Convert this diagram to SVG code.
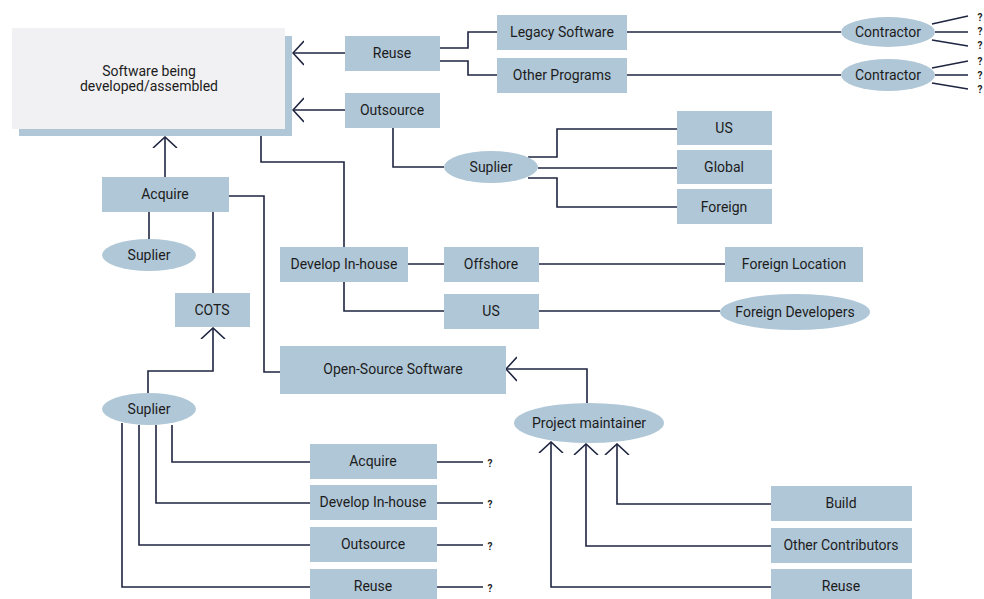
<svg xmlns="http://www.w3.org/2000/svg" width="984" height="599" viewBox="0 0 984 599">
<defs>
<style>
.b{fill:#b0c7d7}
.t{font-family:Roboto,"Liberation Sans",sans-serif;font-size:14px;fill:#1c1c1c;text-anchor:middle;dominant-baseline:central}
.q{font-family:Roboto,"Liberation Sans",sans-serif;font-size:10px;font-weight:bold;fill:#222;text-anchor:middle;dominant-baseline:central}
.c{fill:none;stroke:#1f2540;stroke-width:1.6}
</style>
<marker id="ah" viewBox="0 0 12 26" refX="11" refY="13" markerWidth="12" markerHeight="26" markerUnits="userSpaceOnUse" orient="auto">
<path d="M0,1 L11,13 L0,25" fill="none" stroke="#1f2540" stroke-width="1.6"/>
</marker>
</defs>
<rect width="984" height="599" fill="#fff"/>
<g id="connectors">
<path class="c" d="M345,53 H293" marker-end="url(#ah)"/>
<path class="c" d="M345,110 H293" marker-end="url(#ah)"/>
<path class="c" d="M440,48 H468 V32 H497"/>
<path class="c" d="M440,61 H468 V75 H497"/>
<path class="c" d="M627,32 H841"/>
<path class="c" d="M627,75 H841"/>
<path class="c" d="M932,24 L968,16 M935,32 H968 M932,40 L968,46"/>
<path class="c" d="M932,68 L968,61 M935,75 H968 M932,83 L968,89"/>
<path class="c" d="M393,128 V167 H444"/>
<path class="c" d="M528,157 H557 V129 H677"/>
<path class="c" d="M538,168 H677"/>
<path class="c" d="M528,178 H557 V207 H677"/>
<path class="c" d="M261,136 V162 H344 V247"/>
<path class="c" d="M344,282 V311 H444"/>
<path class="c" d="M408,264 H444"/>
<path class="c" d="M539,264 H725"/>
<path class="c" d="M539,311 H720"/>
<path class="c" d="M165,177 V137" marker-end="url(#ah)"/>
<path class="c" d="M149,212 V239"/>
<path class="c" d="M213,212 V293"/>
<path class="c" d="M229,196 H264 V372 H280"/>
<path class="c" d="M148,393 V371 H213 V328" marker-end="url(#ah)"/>
<path class="c" d="M172,425 V462 H310"/>
<path class="c" d="M156,425 V503 H310"/>
<path class="c" d="M139,425 V545 H310"/>
<path class="c" d="M122,423 V587 H310"/>
<path class="c" d="M437,462 H483 M437,503 H483 M437,545 H483 M437,587 H483"/>
<path class="c" d="M587,403 V369 H506" marker-end="url(#ah)"/>
<path class="c" d="M771,504 H617 V444" marker-end="url(#ah)"/>
<path class="c" d="M771,546 H586 V444" marker-end="url(#ah)"/>
<path class="c" d="M771,587 H551 V442" marker-end="url(#ah)"/>
</g>
<g id="main">
<rect x="19" y="36" width="273" height="100" class="b"/>
<rect x="12" y="28" width="273" height="101" fill="#f1f1f3"/>
<text class="t" x="149" y="71">Software being</text>
<text class="t" x="149" y="86">developed/assembled</text>
</g>
<g id="reuse"><rect class="b" x="345" y="36" width="95" height="35"/><text class="t" x="392" y="53">Reuse</text></g>
<g id="outsource"><rect class="b" x="345" y="93" width="95" height="35"/><text class="t" x="392" y="110">Outsource</text></g>
<g id="legacy"><rect class="b" x="497" y="15" width="130" height="35"/><text class="t" x="562" y="32">Legacy Software</text></g>
<g id="otherprograms"><rect class="b" x="497" y="58" width="130" height="35"/><text class="t" x="562" y="75">Other Programs</text></g>
<g id="contractor1"><ellipse class="b" cx="888" cy="32" rx="47" ry="15"/><text class="t" x="888" y="32">Contractor</text></g>
<g id="contractor2"><ellipse class="b" cx="888" cy="75" rx="47" ry="16"/><text class="t" x="888" y="75">Contractor</text></g>
<g id="q-top">
<text class="q" x="980" y="17">?</text><text class="q" x="980" y="31">?</text><text class="q" x="980" y="45">?</text>
<text class="q" x="980" y="61">?</text><text class="q" x="980" y="75">?</text><text class="q" x="980" y="89">?</text>
</g>
<g id="suplier-out"><ellipse class="b" cx="491" cy="167" rx="47" ry="16"/><text class="t" x="491" y="167">Suplier</text></g>
<g id="us1"><rect class="b" x="677" y="111" width="95" height="34"/><text class="t" x="724" y="128">US</text></g>
<g id="global"><rect class="b" x="677" y="150" width="95" height="34"/><text class="t" x="724" y="167">Global</text></g>
<g id="foreign"><rect class="b" x="677" y="189" width="95" height="35"/><text class="t" x="724" y="207">Foreign</text></g>
<g id="develop"><rect class="b" x="280" y="247" width="128" height="35"/><text class="t" x="344" y="264">Develop In-house</text></g>
<g id="offshore"><rect class="b" x="444" y="247" width="95" height="35"/><text class="t" x="491" y="264">Offshore</text></g>
<g id="us2"><rect class="b" x="444" y="294" width="95" height="35"/><text class="t" x="491" y="311">US</text></g>
<g id="foreignlocation"><rect class="b" x="725" y="247" width="138" height="35"/><text class="t" x="794" y="264">Foreign Location</text></g>
<g id="foreigndevelopers"><ellipse class="b" cx="795" cy="312" rx="75" ry="18"/><text class="t" x="795" y="312">Foreign Developers</text></g>
<g id="acquire"><rect class="b" x="102" y="177" width="127" height="35"/><text class="t" x="165" y="194">Acquire</text></g>
<g id="suplier-acq"><ellipse class="b" cx="149" cy="255" rx="47" ry="16"/><text class="t" x="149" y="255">Suplier</text></g>
<g id="cots"><rect class="b" x="175" y="293" width="75" height="34"/><text class="t" x="212" y="310">COTS</text></g>
<g id="opensource"><rect class="b" x="280" y="346" width="226" height="48"/><text class="t" x="393" y="369">Open-Source Software</text></g>
<g id="suplier-cots"><ellipse class="b" cx="149" cy="409" rx="47" ry="16"/><text class="t" x="149" y="409">Suplier</text></g>
<g id="acquire2"><rect class="b" x="310" y="444" width="127" height="35"/><text class="t" x="373" y="461">Acquire</text></g>
<g id="develop2"><rect class="b" x="310" y="485" width="127" height="35"/><text class="t" x="373" y="502">Develop In-house</text></g>
<g id="outsource2"><rect class="b" x="310" y="527" width="127" height="35"/><text class="t" x="373" y="544">Outsource</text></g>
<g id="reuse2"><rect class="b" x="310" y="569" width="127" height="35"/><text class="t" x="373" y="586">Reuse</text></g>
<g id="q-bottom">
<text class="q" x="490" y="463">?</text><text class="q" x="490" y="504">?</text><text class="q" x="490" y="546">?</text><text class="q" x="490" y="588">?</text>
</g>
<g id="maintainer"><ellipse class="b" cx="589" cy="423" rx="75" ry="20"/><text class="t" x="589" y="423">Project maintainer</text></g>
<g id="build"><rect class="b" x="771" y="486" width="141" height="35"/><text class="t" x="841" y="503">Build</text></g>
<g id="contributors"><rect class="b" x="771" y="528" width="141" height="35"/><text class="t" x="841" y="545">Other Contributors</text></g>
<g id="reuse3"><rect class="b" x="771" y="569" width="141" height="35"/><text class="t" x="841" y="586">Reuse</text></g>
</svg>
